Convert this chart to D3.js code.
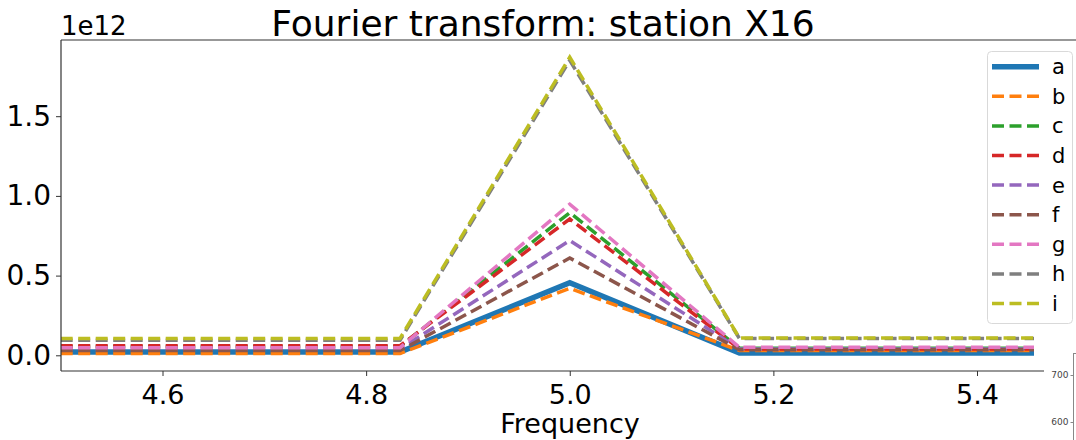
<!DOCTYPE html>
<html>
<head>
<meta charset="utf-8">
<script src="https://cdn.jsdelivr.net/npm/d3@7"></script>
<style>
  html, body { margin: 0; padding: 0; background: #fff; }
  svg { display: block; font-family: "DejaVu Sans", sans-serif; }
</style>
</head>
<body>
<svg id="chart" width="1076" height="440"></svg>
<script>
// Frequencies (Hz) where the spectrum is sampled
const frequencies = [4.5, 4.8333, 5.0, 5.1667, 5.5];

// Spectrum amplitude per series, in units of 1e12
const seriesNames = ["a", "b", "c", "d", "e", "f", "g", "h", "i"];
const seriesA = [0.020, 0.020, 0.455, 0.015, 0.015];
const seriesB = [0.012, 0.012, 0.420, 0.030, 0.030];
const seriesC = [0.055, 0.055, 0.895, 0.045, 0.045];
const seriesD = [0.060, 0.060, 0.855, 0.040, 0.040];
const seriesE = [0.040, 0.040, 0.720, 0.040, 0.040];
const seriesF = [0.030, 0.030, 0.610, 0.035, 0.035];
const seriesG = [0.048, 0.048, 0.948, 0.050, 0.050];
const seriesH = [0.095, 0.095, 1.850, 0.105, 0.105];
const seriesI = [0.106, 0.106, 1.870, 0.108, 0.108];
const seriesValues = [seriesA, seriesB, seriesC, seriesD, seriesE, seriesF, seriesG, seriesH, seriesI];

const xTicks = [4.6, 4.8, 5.0, 5.2, 5.4];
const yTicks = [0.0, 0.5, 1.0, 1.5];
const sideTicks = [600, 700];

const colors = ["#1f77b4", "#ff7f0e", "#2ca02c", "#d62728", "#9467bd",
                "#8c564b", "#e377c2", "#7f7f7f", "#bcbd22"];

const svg = d3.select("#chart");

const plot = { left: 61, right: 1034, top: 40, bottom: 371 };

const x = d3.scaleLinear().domain([4.5, 5.4]).range([60.7, 977]);
const y = d3.scaleLinear().domain([0, 1.5]).range([355.3, 116.2]);

// clip region for the data lines
svg.append("defs").append("clipPath").attr("id", "plotclip")
  .append("rect")
  .attr("x", plot.left).attr("y", plot.top)
  .attr("width", plot.right - plot.left).attr("height", plot.bottom - plot.top);

const line = d3.line()
  .x((d, i) => x(frequencies[i]))
  .y(d => y(d));

const lines = svg.append("g").attr("clip-path", "url(#plotclip)");
seriesValues.forEach((vals, k) => {
  lines.append("path")
    .datum(vals)
    .attr("d", line)
    .attr("fill", "none")
    .attr("stroke", colors[k])
    .attr("stroke-width", k === 0 ? 5.5 : 3.5)
    .attr("stroke-dasharray", k === 0 ? null : "12,5.5")
    .attr("stroke-linejoin", "miter")
    .attr("stroke-linecap", "butt");
});

// axes
const xAxis = d3.axisBottom(x).tickValues(xTicks).tickFormat(d3.format(".1f"))
  .tickSize(5).tickPadding(9);
const gx = svg.append("g").attr("transform", `translate(0,${plot.bottom})`).call(xAxis);
gx.select(".domain").remove();
gx.selectAll("text").attr("font-size", 27).attr("fill", "#000").attr("font-family", "DejaVu Sans");
gx.selectAll("line").attr("stroke", "#333");

const yAxis = d3.axisLeft(y).tickValues(yTicks).tickFormat(d3.format(".1f"))
  .tickSize(5).tickPadding(5);
const gy = svg.append("g").attr("transform", `translate(${plot.left},0)`).call(yAxis);
gy.select(".domain").remove();
gy.selectAll("text").attr("font-size", 28).attr("fill", "#000").attr("font-family", "DejaVu Sans");
gy.selectAll("line").attr("stroke", "#333");

// spines
svg.append("line").attr("x1", plot.left).attr("x2", plot.left)
  .attr("y1", plot.top).attr("y2", plot.bottom).attr("stroke", "#333").attr("stroke-width", 1.2);
svg.append("line").attr("x1", plot.left).attr("x2", 1044)
  .attr("y1", plot.bottom).attr("y2", plot.bottom).attr("stroke", "#333").attr("stroke-width", 1.2);
svg.append("line").attr("x1", plot.left).attr("x2", 1076)
  .attr("y1", plot.top).attr("y2", plot.top).attr("stroke", "#333").attr("stroke-width", 1.2);

// offset exponent
svg.append("text").attr("x", 61).attr("y", 35)
  .attr("font-size", 26).text("1e12");

// title and axis label
svg.append("text").attr("x", 543).attr("y", 36).attr("text-anchor", "middle")
  .attr("font-size", 36).text("Fourier transform: station X16");
svg.append("text").attr("x", 570).attr("y", 433).attr("text-anchor", "middle")
  .attr("font-size", 27).text("Frequency");

// legend
const legend = svg.append("g");
legend.append("rect").attr("x", 987.5).attr("y", 51.5).attr("width", 85).attr("height", 272)
  .attr("rx", 4).attr("fill", "#fff").attr("fill-opacity", 0.85)
  .attr("stroke", "#d9d9d9").attr("stroke-width", 1);
seriesNames.forEach((name, k) => {
  const cy = 66.7 + k * 29.6;
  legend.append("line").attr("x1", 992).attr("x2", 1039).attr("y1", cy).attr("y2", cy)
    .attr("stroke", colors[k]).attr("stroke-width", k === 0 ? 5.5 : 3.5)
    .attr("stroke-dasharray", k === 0 ? null : "12,5.5");
  legend.append("text").attr("x", 1052).attr("y", cy + 7.5)
    .attr("font-size", 21).text(name);
});

// partial neighbouring axis in the lower-right corner
const side = d3.scaleLinear().domain([600, 700]).range([422, 375]);
const sideG = svg.append("g");
sideG.append("rect").attr("x", 1044).attr("y", 343).attr("width", 32).attr("height", 97).attr("fill", "#fff");
sideG.append("line").attr("x1", 1073.5).attr("x2", 1073.5).attr("y1", 353).attr("y2", 440)
  .attr("stroke", "#888").attr("stroke-width", 1);
sideG.append("line").attr("x1", 1073.5).attr("x2", 1076).attr("y1", 353.5).attr("y2", 353.5)
  .attr("stroke", "#888").attr("stroke-width", 1);
const sa = d3.axisLeft(side).tickValues(sideTicks).tickSize(3).tickPadding(2);
const gs = sideG.append("g").attr("transform", "translate(1073.5,0)").call(sa);
gs.select(".domain").remove();
gs.selectAll("text").attr("font-size", 9).attr("fill", "#444").attr("font-family", "DejaVu Sans");
gs.selectAll("line").attr("stroke", "#888");
</script>
</body>
</html>
